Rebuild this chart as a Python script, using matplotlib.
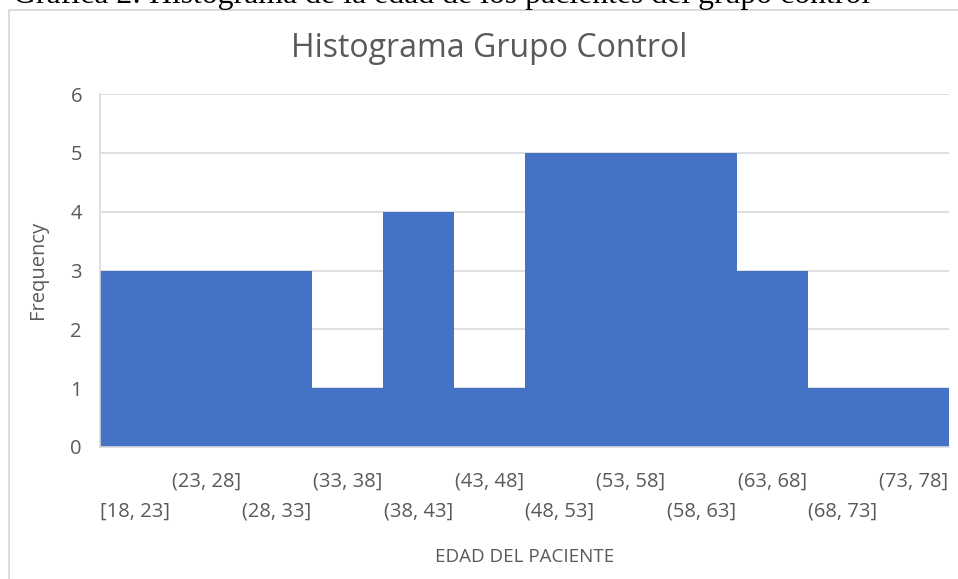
import matplotlib
matplotlib.use("Agg")
import matplotlib.pyplot as plt
from matplotlib.patches import Rectangle

categories = ["[18, 23]", "(23, 28]", "(28, 33]", "(33, 38]", "(38, 43]", "(43, 48]",
              "(48, 53]", "(53, 58]", "(58, 63]", "(63, 68]", "(68, 73]", "(73, 78]"]
frequency = [3, 3, 3, 1, 4, 1, 5, 5, 5, 3, 1, 1]
y_ticks = [0, 1, 2, 3, 4, 5, 6]

W, H = 958, 579
DPI = 100
fig = plt.figure(figsize=(W / DPI, H / DPI), dpi=DPI)
fig.patch.set_facecolor("white")

def fx(px):
    return px / W

def fy(py):
    return 1 - py / H

FONT = ["Open Sans", "DejaVu Sans"]
GREY_TXT = "#595959"
GRID = "#d9d9d9"

# caption (cut off at top)
fig.text(fx(13), fy(3.5), "Gráfica 2: Histograma de la edad de los pacientes del grupo control",
         fontsize=22.9, family=["Liberation Serif"], color="black", ha="left", va="baseline")

# chart border
fig.patches.append(Rectangle((fx(9), fy(1000)), 2, fy(10) - fy(1000), transform=fig.transFigure,
                             fill=False, edgecolor=GRID, linewidth=1.3, clip_on=False))

ax = fig.add_axes([fx(100), fy(447), fx(949) - fx(100), fy(94) - fy(447)])
x = list(range(len(categories)))
ax.bar(x, frequency, width=1.0, color="#4472C4", linewidth=0, zorder=2)
ax.set_xlim(-0.5, len(categories) - 0.5)
ax.set_ylim(0, 6)
ax.set_yticks(y_ticks)
ax.set_yticklabels([str(v) for v in y_ticks], fontsize=14.5, family=FONT, color=GREY_TXT)
ax.yaxis.grid(True, color=GRID, linewidth=1.2, zorder=0)
ax.set_axisbelow(True)
ax.tick_params(axis="y", length=0, pad=13)
ax.tick_params(axis="x", length=0)
ax.set_xticks(x)
ax.set_xticklabels(categories, fontsize=14.5, family=FONT, color=GREY_TXT)
for i, t in enumerate(ax.xaxis.get_major_ticks()):
    t.set_pad(17.5 if i % 2 == 1 else 39.5)

for s in ["top", "right"]:
    ax.spines[s].set_visible(False)
ax.spines["bottom"].set_color(GRID)
ax.spines["bottom"].set_linewidth(1.2)
ax.spines["left"].set_color(GRID)
ax.spines["left"].set_linewidth(1.2)

fig.text(fx(489), fy(57), "Histograma Grupo Control", fontsize=23, family=FONT,
         color=GREY_TXT, ha="center", va="baseline")
fig.text(fx(525), fy(557), "EDAD DEL PACIENTE", fontsize=13.5, family=FONT,
         color=GREY_TXT, ha="center", va="center")
fig.text(fx(38), fy(270), "Frequency", fontsize=14.5, family=FONT, rotation=90,
         color=GREY_TXT, ha="center", va="center")

fig.savefig("out.png", dpi=DPI)
